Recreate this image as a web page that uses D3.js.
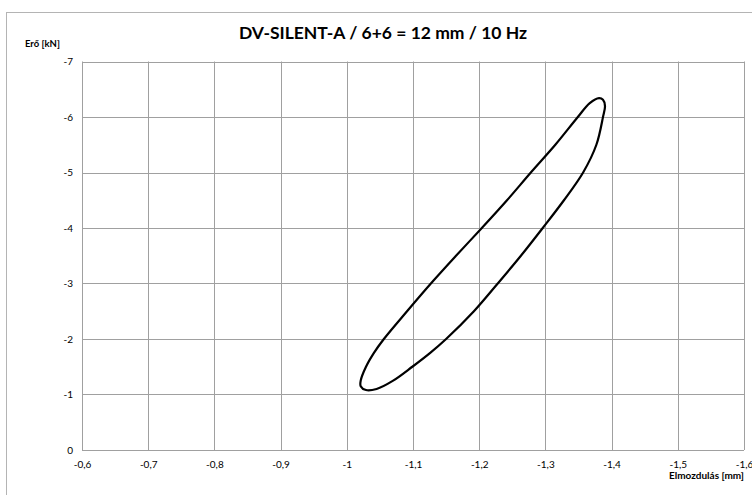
<!DOCTYPE html>
<html>
<head>
<meta charset="utf-8">
<script src="https://cdn.jsdelivr.net/npm/d3@7"></script>
<style>
  body { margin: 0; background: #fff; }
  svg { display: block; }
  text { font-family: Lato, "Liberation Sans", Arial, sans-serif; fill: #000; }
</style>
</head>
<body>
<svg id="chart"></svg>
<script>
// Hysteresis loop (displacement mm, force kN)
// goes from the top tip down the upper branch, round the lower tip, back up
const elmozdulas = [
    -1.390, -1.387, -1.381, -1.367, -1.349, -1.315, -1.278, -1.242, -1.204, -1.165,
    -1.127, -1.091, -1.056, -1.041, -1.029, -1.021, -1.021, -1.029, -1.045, -1.070,
    -1.099, -1.126, -1.150, -1.192, -1.228, -1.263, -1.296, -1.328, -1.357, -1.377,
    -1.387
];
const ero = [
    -6.20, -6.31, -6.34, -6.25, -6.00, -5.50, -5.00, -4.50, -4.00, -3.50,
    -3.00, -2.50, -2.00, -1.75, -1.50, -1.25, -1.15, -1.08, -1.10, -1.25,
    -1.50, -1.75, -2.00, -2.50, -3.00, -3.50, -4.00, -4.50, -5.00, -5.50,
    -6.00
];
const xTicks = [-0.6, -0.7, -0.8, -0.9, -1.0, -1.1, -1.2, -1.3, -1.4, -1.5, -1.6];
const yTicks = [0, -1, -2, -3, -4, -5, -6, -7];

const chartTitle = 'DV-SILENT-A / 6+6 = 12 mm / 10 Hz';
const xTitle = 'Elmozdulás [mm]';
const yTitle = 'Erő [kN]';

const W = 752, H = 495;
const plot = {left: 82, right: 744, top: 61.5, bottom: 450};

const svg = d3.select('#chart')
    .attr('width', W)
    .attr('height', H);

// Outer chart frame
svg.append('rect')
    .attr('x', 6.5)
    .attr('y', 12.5)
    .attr('width', 760)
    .attr('height', 500)
    .attr('fill', '#fff')
    .attr('stroke', '#b4b4b4');

const x = d3.scaleLinear()
    .domain([-0.6, -1.6])
    .range([plot.left, plot.right]);

const y = d3.scaleLinear()
    .domain([0, -7])
    .range([plot.bottom, plot.top]);

const fmt = d => String(d).replace('.', ',');

// Grid lines
svg.append('g')
    .selectAll('line')
    .data(xTicks)
    .enter()
    .append('line')
    .attr('x1', d => Math.round(x(d)) + 0.5)
    .attr('x2', d => Math.round(x(d)) + 0.5)
    .attr('y1', plot.top)
    .attr('y2', plot.bottom)
    .attr('stroke', '#a0a0a0');

svg.append('g')
    .selectAll('line')
    .data(yTicks)
    .enter()
    .append('line')
    .attr('x1', plot.left)
    .attr('x2', plot.right)
    .attr('y1', d => Math.round(y(d)) + 0.5)
    .attr('y2', d => Math.round(y(d)) + 0.5)
    .attr('stroke', '#a0a0a0');

// X axis labels
svg.append('g')
    .attr('transform', `translate(0,${plot.bottom + 15})`)
    .call(d3.axisBottom(x).tickValues(xTicks).tickSize(0).tickFormat(fmt))
    .call(g => g.select('.domain').remove())
    .call(g => g.selectAll('text')
        .attr('dy', '0.32em')
        .attr('y', 0)
        .style('font-size', '10px')
        .style('font-family', 'Lato, "Liberation Sans", Arial, sans-serif'));

// Y axis labels
svg.append('g')
    .attr('transform', `translate(${plot.left - 9},0)`)
    .call(d3.axisLeft(y).tickValues(yTicks).tickSize(0).tickFormat(fmt))
    .call(g => g.select('.domain').remove())
    .call(g => g.selectAll('text')
        .attr('x', 0)
        .style('font-size', '10px')
        .style('font-family', 'Lato, "Liberation Sans", Arial, sans-serif'));

// The loop
const line = d3.line()
    .x(d => x(d[0]))
    .y(d => y(d[1]))
    .curve(d3.curveCatmullRomClosed.alpha(0.5));

svg.append('path')
    .datum(elmozdulas.map((d, i) => [d, ero[i]]))
    .attr('d', line)
    .attr('fill', 'none')
    .attr('stroke', '#000')
    .attr('stroke-width', 2.2)
    .attr('stroke-linejoin', 'round');

// Titles
svg.append('text')
    .attr('x', 383)
    .attr('y', 39)
    .attr('text-anchor', 'middle')
    .style('font-size', '17.5px')
    .style('font-weight', 'bold')
    .text(chartTitle);

svg.append('text')
    .attr('x', 25)
    .attr('y', 46.5)
    .style('font-size', '9.5px')
    .style('font-weight', 'bold')
    .text(yTitle);

svg.append('text')
    .attr('x', 744)
    .attr('y', 479)
    .attr('text-anchor', 'end')
    .style('font-size', '10px')
    .style('font-weight', 'bold')
    .text(xTitle);
</script>
</body>
</html>
